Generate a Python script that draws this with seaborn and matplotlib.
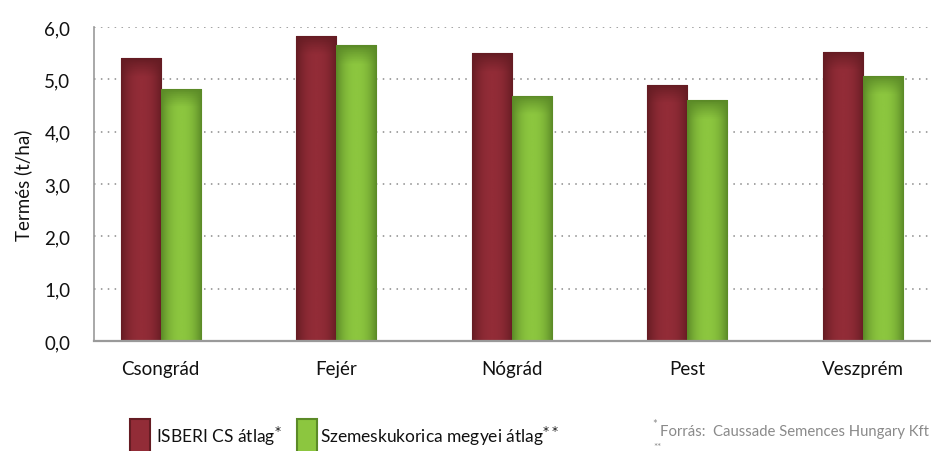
import matplotlib
matplotlib.use("Agg")
import matplotlib.pyplot as plt
import numpy as np
import pandas as pd
import seaborn as sns
from matplotlib.colors import LinearSegmentedColormap

# data
counties = ["Csongrád", "Fejér", "Nógrád", "Pest", "Veszprém"]
isberi = [5.4, 5.83, 5.5, 4.9, 5.53]
megyei = [4.82, 5.65, 4.69, 4.6, 5.07]
series = ["ISBERI CS átlag", "Szemeskukorica megyei átlag"]
yticks = [0, 1, 2, 3, 4, 5, 6]

df = pd.DataFrame({
    "megye": counties * 2,
    "sorozat": [series[0]] * len(counties) + [series[1]] * len(counties),
    "termes": isberi + megyei,
})

sns.set_theme(style="white")
plt.rcParams["font.family"] = ["Lato", "DejaVu Sans"]

fig = plt.figure(figsize=(9.31, 4.52), dpi=100)
ax = fig.add_axes([94 / 931, 1 - 342 / 452, 1 - 94 / 931, 314 / 452])

colors = ["#8a2a33", "#84bb3c"]
edge_colors = ["#5a1a20", "#5d8a28"]
dark = ["#651c23", "#5b8a27"]
light = ["#922c37", "#8cc63f"]

sns.barplot(data=df, x="megye", y="termes", hue="sorozat", palette=colors,
            width=0.456, saturation=1, ax=ax, legend=False)

# shaded look of the bars: darker edges and top, lighter middle
n = len(counties)
for i, bar in enumerate(ax.patches[:2 * n]):
    k = 0 if i < n else 1
    cmap = LinearSegmentedColormap.from_list("g", [dark[k], light[k]])
    t = np.linspace(0, 1, 64)
    prof = 1 - np.abs(2 * t - 1) ** 2.2
    img = np.tile(prof, (128, 1))
    rows = np.linspace(0, 1, 128)[:, None]
    x0, w = bar.get_x(), bar.get_width()
    h = bar.get_height()
    top = np.clip((1 - rows) / (0.35 / h), 0, 1)
    img = img * top ** 0.8
    im = ax.imshow(img, cmap=cmap, vmin=0, vmax=1, aspect="auto", origin="lower",
                   extent=(x0, x0 + w, 0, h), zorder=bar.get_zorder() + 0.1)
    im.set_clip_path(bar)
    bar.set_edgecolor(edge_colors[k])
    bar.set_linewidth(0.8)
ax.set_xlim(-0.38, 4.39)
ax.set_ylim(0, 6)

ax.set_yticks(yticks)
ax.set_yticklabels([f"{v:.1f}".replace(".", ",") for v in yticks], fontsize=13.5,
                   color="#111111")
ax.tick_params(axis="x", labelsize=13.5, length=0, pad=14, labelcolor="#111111")
ax.tick_params(axis="y", length=0, pad=17)
ax.set_xlabel("")
ax.set_ylabel("Termés (t/ha)", fontsize=13.5, labelpad=9, color="#111111")
ax.yaxis.grid(True, linestyle=(0, (1, 3.5)), color="#8a8a8a", linewidth=1.1)
ax.set_axisbelow(True)
for side in ["top", "right"]:
    ax.spines[side].set_visible(False)
ax.spines["left"].set_color("#9a9a9a")
ax.spines["bottom"].set_color("#9a9a9a")
ax.spines["left"].set_linewidth(1.2)
ax.spines["bottom"].set_linewidth(1.6)

# legend at the bottom, squares run off the lower edge like in the reference
sq_x = [130 / 931, 297 / 931]
txt_x = [156 / 931, 320 / 931]
stars = [r"$^{*}$", r"$^{**}$"]
for k in range(2):
    fig.patches.append(plt.Rectangle((sq_x[k], -0.02), 20 / 931, 0.09, facecolor=light[k],
                                     edgecolor=dark[k], linewidth=1.5,
                                     transform=fig.transFigure, figure=fig))
    fig.text(txt_x[k], 0.02, series[k] + stars[k], fontsize=12.5, color="#111111")

# footnote
fig.text(0.701, 0.052, "*", fontsize=8, color="#8a8a8a")
fig.text(0.709, 0.035, "Forrás:  Caussade Semences Hungary Kft",
         fontsize=10.7, color="#8a8a8a")
fig.text(0.702, 0.0, "**", fontsize=7, color="#8a8a8a", va="bottom")

fig.savefig("out.png", dpi=100)
